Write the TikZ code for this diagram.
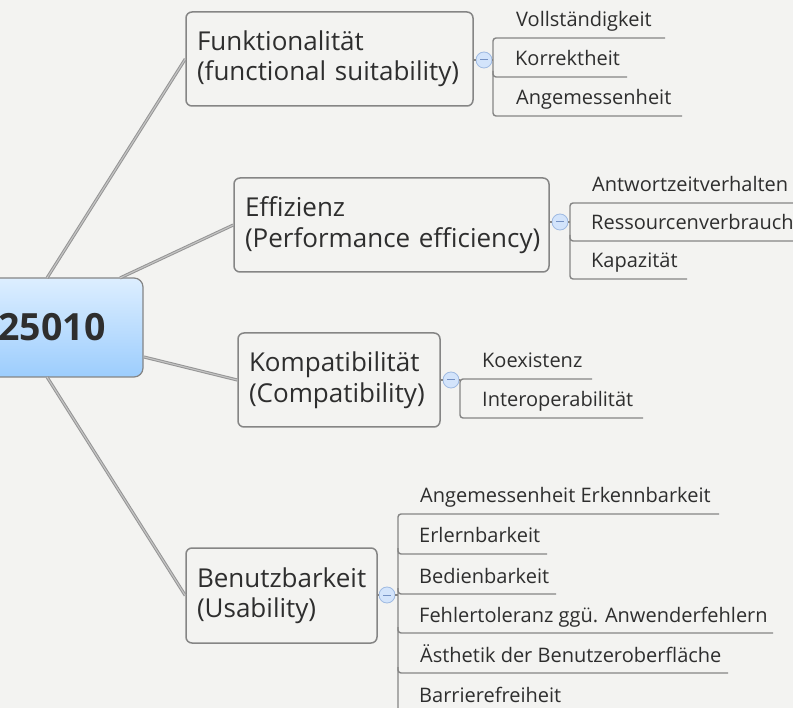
\documentclass[tikz,border=0pt]{standalone}
\usepackage{fontspec}
\setmainfont{Open Sans}
\definecolor{bgc}{HTML}{F3F3F1}
\definecolor{txt}{HTML}{2E2E2E}
\definecolor{edge}{HTML}{858585}
\definecolor{branch}{HTML}{959595}
\definecolor{branchin}{HTML}{C4C4C4}
\definecolor{rtop}{HTML}{DDEEFF}
\definecolor{rbot}{HTML}{9CCDFD}
\definecolor{cfill}{HTML}{D3E4FB}
\definecolor{cedge}{HTML}{9FBAE2}
\definecolor{cminus}{HTML}{7592C4}
\tikzset{
 mainbox/.style={draw=edge, line width=1.5pt, rounded corners=6pt, fill=bgc, text=txt,
   inner xsep=11pt, inner ysep=0pt, align=left, font=\fontsize{26}{30.5}\selectfont},
 leaf/.style={text=txt, inner sep=0pt, anchor=base west, font=\fontsize{20}{22}\selectfont},
 uline/.style={draw=edge, line width=1.4pt, rounded corners=3pt},
 branchline/.style={draw=branch, line width=1pt, double=branchin, double distance=1.1pt},
 toggle/.style={circle, draw=cedge, fill=cfill, line width=0.8pt, minimum size=16pt, inner sep=0pt,
   path picture={\draw[cminus,line width=1pt] ([xshift=4pt]path picture bounding box.west) -- ([xshift=-4pt]path picture bounding box.east);}},
}
\begin{document}
\begin{tikzpicture}[x=1pt,y=-1pt]
\useasboundingbox (0,0) rectangle (793,708);
\clip (0,0) rectangle (793,708);
\fill[bgc] (0,0) rectangle (793,708);

% root
\node[draw=edge, line width=1.2pt, rounded corners=9pt, top color=rtop, bottom color=rbot,
  minimum width=182pt, minimum height=99pt, inner sep=0pt, text=txt,
  font=\fontsize{37.5}{42}\selectfont\bfseries] (root) at (52,327.5) {25010};
\coordinate (r1) at (47,278);
\coordinate (r2) at (120,278);
\coordinate (r3) at (144,357);
\coordinate (r4) at (47,377);

% main topics
\node[mainbox, minimum width=287pt, minimum height=94pt, text width=265pt] (funk) at (329.5,59) {\mbox{Funktionalität}\\\mbox{(functional suitability)}};
\node[mainbox, minimum width=315pt, minimum height=94pt, text width=293pt] (eff) at (391.5,225) {\mbox{Effizienz}\\\mbox{(Performance efficiency)}};
\node[mainbox, minimum width=202pt, minimum height=94pt, text width=180pt] (komp) at (339,380) {\mbox{Kompatibilität}\\\mbox{(Compatibility)}};
\node[mainbox, minimum width=191pt, minimum height=95pt, text width=169pt] (benu) at (281.5,595.5) {\mbox{Benutzbarkeit}\\\mbox{(Usability)}};

\draw[branchline] (r1) -- (funk.west);
\draw[branchline] (r2) -- (eff.west);
\draw[branchline] (r3) -- (komp.west);
\draw[branchline] (r4) -- (benu.west);

% toggles
\node[toggle] (t1) at (484,60) {};
\node[toggle] (t2) at (560,222) {};
\node[toggle] (t3) at (451,380) {};
\node[toggle] (t4) at (387,595) {};
\draw[uline] (funk.east |- t1) -- (t1.west);
\draw[uline] (eff.east |- t2) -- (t2.west);
\draw[uline] (komp.east |- t3) -- (t3.west);
\draw[uline] (benu.east |- t4) -- (t4.west);

% Funktionalitaet leaves
\node[leaf] (f1) at (516,27) {Vollständigkeit};
\node[leaf] (f2) at (515,66) {Korrektheit};
\node[leaf] (f3) at (516,105) {Angemessenheit};
\draw[uline] (t1.east) -- (493,60);
\draw[uline] (665,38) -- (493,38) -- (493,116) -- (682,116);
\draw[uline] (493,71) -- (493,77) -- (627,77);

% Effizienz leaves
\node[leaf] (e1) at (592,192) {Antwortzeitverhalten};
\node[leaf] (e2) at (591,230) {Ressourcenverbrauch};
\node[leaf] (e3) at (591,268) {Kapazität};
\draw[uline] (t2.east) -- (570,222);
\draw[uline] (800,203) -- (570,203) -- (570,279) -- (687,279);
\draw[uline] (570,235) -- (570,241) -- (800,241);

% Kompatibilitaet leaves
\node[leaf] (k1) at (482,368) {Koexistenz};
\node[leaf] (k2) at (482,407) {Interoperabilität};
\draw[uline] (t3.east) -- (460,380);
\draw[uline] (592,379) -- (460,379) -- (460,418) -- (643,418);

% Benutzbarkeit leaves
\node[leaf] (b1) at (420,503) {Angemessenheit Erkennbarkeit};
\node[leaf] (b2) at (419,543) {Erlernbarkeit};
\node[leaf] (b3) at (419,583) {Bedienbarkeit};
\node[leaf] (b4) at (419,622) {Fehlertoleranz ggü. Anwenderfehlern};
\node[leaf] (b5) at (420,662) {Ästhetik der Benutzeroberfläche};
\node[leaf] (b6) at (419,702) {Barrierefreiheit};
\draw[uline] (t4.east) -- (398,595);
\draw[uline] (719,514) -- (398,514) -- (398,713) -- (560,713);
\draw[uline] (398,548) -- (398,554) -- (547,554);
\draw[uline] (398,588) -- (398,594) -- (556,594);
\draw[uline] (398,627) -- (398,633) -- (773,633);
\draw[uline] (398,667) -- (398,673) -- (728,673);
\end{tikzpicture}
\end{document}
